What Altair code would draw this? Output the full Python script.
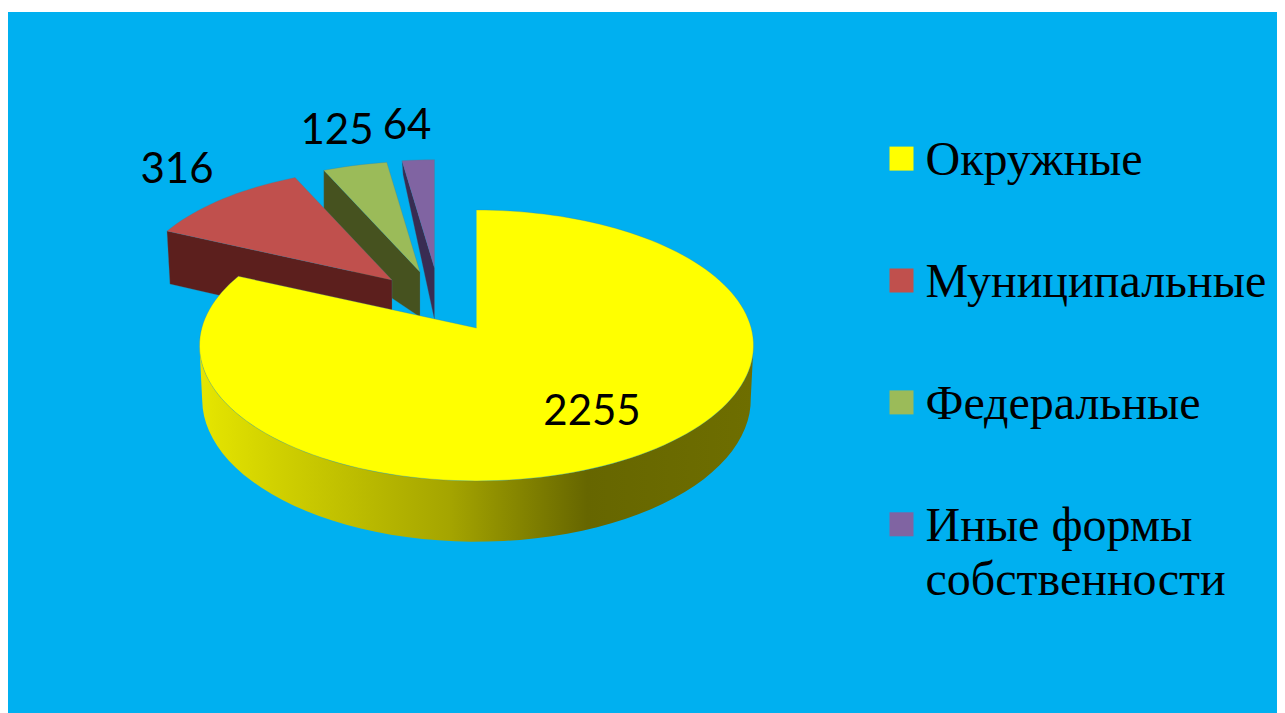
import math
import altair as alt
import pandas as pd

CATEGORIES = ["Окружные", "Муниципальные", "Федеральные", "Иные формы собственности"]
VALUES = [2255, 316, 125, 64]
TOP_COLORS = ["#FFFF00", "#C0504D", "#9BBB59", "#8064A2"]
WALL_COLORS = [None, "#5C1F1D", "#46521F", "#392C52"]

BG = "#00B0F0"
W, H, TOP_GAP = 1269, 705, 4

# perspective pie: apex on screen, scale, and drop of the wall below corners
K = 0.129
RX, RY = 274.7, 133.2
APEX = [(476.5, 328), (392, 280), (420, 272), (434.5, 268)]
SCALE = [1.0, 0.945, 0.938, 0.918]
# wall drop (dx, dy) at the outer-left corner and at the apex
WALL_DROP = [None, ((3, 53), (0, 55)), ((0, 82), (0, 45)), ((1, 14), (0, 52))]
LABEL_OFFSET = [(115.5, 84), (-215, -110), (-83, -141), (-27.5, -142)]


def project(deg, apex, scale, rx=RX, ry=RY):
    t = math.radians(deg)
    x, y = math.sin(t), math.cos(t)
    w = 1 + K * y
    return apex[0] + scale * rx * x / w, apex[1] - scale * ry * y / w


total = sum(VALUES)
angles = [0.0]
for v in VALUES:
    angles.append(angles[-1] + v / total * 360)

tops, walls = [], []
for i, cat in enumerate(CATEGORIES):
    a0, a1 = angles[i], angles[i + 1]
    n = max(3, int((a1 - a0) / 2))
    pts = [project(a0 + (a1 - a0) * j / n, APEX[i], SCALE[i]) for j in range(n + 1)]
    pts.append(APEX[i])
    tops.append((cat, pts))
    if i > 0:
        (dlx, dly), (dax, day) = WALL_DROP[i]
        left = pts[0]
        ap = APEX[i]
        walls.append((cat, i, [left, ap, (ap[0] + dax, ap[1] + day), (left[0] + dlx, left[1] + dly)]))

# draw order: the far, small slices first, the big one last
top_rows = []
seq = 0
for i in [3, 2, 1, 0]:
    cat, pts = tops[i]
    for p in pts:
        top_rows.append({"cat": cat, "px": p[0], "py": p[1], "o": seq})
        seq += 1

scale_x = alt.Scale(domain=[8, 8 + W], nice=False, zero=False)
scale_y = alt.Scale(domain=[8 + H, 8 + TOP_GAP], nice=False, zero=False)
X = alt.X("px:Q", scale=scale_x, axis=None)
Y = alt.Y("py:Q", scale=scale_y, axis=None)
EDGE = "#3C7F95"

layers = []
for cat, i, pts in sorted(walls, key=lambda w: -w[1]):
    df = pd.DataFrame([{"px": p[0], "py": p[1], "o": j} for j, p in enumerate(pts + [pts[0]])])
    layers.append(
        alt.Chart(df)
        .mark_line(fill=WALL_COLORS[i], stroke=EDGE, strokeWidth=0.5, strokeOpacity=0.6)
        .encode(x=X, y=Y, order="o:Q")
    )

# yellow rim wall, between the widest points of the two rims
fb = [project(d, (476.5, 381), 1.0, rx=272, ry=140) for d in range(97, 264, 3)]
ft = [project(d, APEX[0], 1.0) for d in range(262, 94, -3)]
wall_df = pd.DataFrame([{"px": p[0], "py": p[1], "o": j} for j, p in enumerate(fb + ft)])
rim = alt.Gradient(
    gradient="linear", x1=0, x2=1, y1=0, y2=0,
    stops=[
        alt.GradientStop(color="#E6E600", offset=0),
        alt.GradientStop(color="#CFCF00", offset=0.15),
        alt.GradientStop(color="#A5A500", offset=0.45),
        alt.GradientStop(color="#7A7A00", offset=0.62),
        alt.GradientStop(color="#666600", offset=0.7),
        alt.GradientStop(color="#6E6E00", offset=1),
    ],
)
layers.append(
    alt.Chart(wall_df).mark_line(fill=rim, strokeWidth=0).encode(x=X, y=Y, order="o:Q")
)

top_layer = (
    alt.Chart(pd.DataFrame(top_rows))
    .mark_line(strokeWidth=0.5, strokeOpacity=0.6, stroke=EDGE)
    .encode(
        x=X, y=Y, order="o:Q",
        fill=alt.Fill(
            "cat:N",
            scale=alt.Scale(domain=CATEGORIES, range=TOP_COLORS),
            legend=alt.Legend(
                title=None, orient="none", legendX=869.5, legendY=125,
                symbolType="M-1,-1.2 H1 V0.8 H-1 Z", symbolSize=576, symbolStrokeWidth=0,
                symbolOpacity=1, labelFont="Liberation Serif", labelFontSize=48,
                labelColor="black", labelLimit=500, labelOffset=0, rowPadding=73.9,
                labelExpr="datum.label == 'Иные формы собственности' ? ['Иные формы', 'собственности'] : datum.label",
            ),
        ),
    )
)
layers.append(top_layer)

lab = pd.DataFrame(
    {
        "px": [APEX[i][0] + LABEL_OFFSET[i][0] for i in range(4)],
        "py": [APEX[i][1] + LABEL_OFFSET[i][1] for i in range(4)],
        "v": VALUES,
    }
)
layers.append(
    alt.Chart(lab)
    .mark_text(font="Lato", fontSize=42, color="black", baseline="middle")
    .encode(x=X, y=Y, text="v:Q")
)

chart = (
    alt.layer(*layers)
    .properties(
        width=W, height=H - TOP_GAP,
        padding={"left": 0, "right": 0, "top": TOP_GAP, "bottom": 0},
        autosize=alt.AutoSizeParams(type="none"),
        background="white",
    )
    .configure(
        view=alt.ViewConfig(fill=BG, stroke=None),
        style={"guide-label": {"lineHeight": 54}},
    )
)
chart.save("out.html", embed_options={"renderer": "svg", "actions": False})
